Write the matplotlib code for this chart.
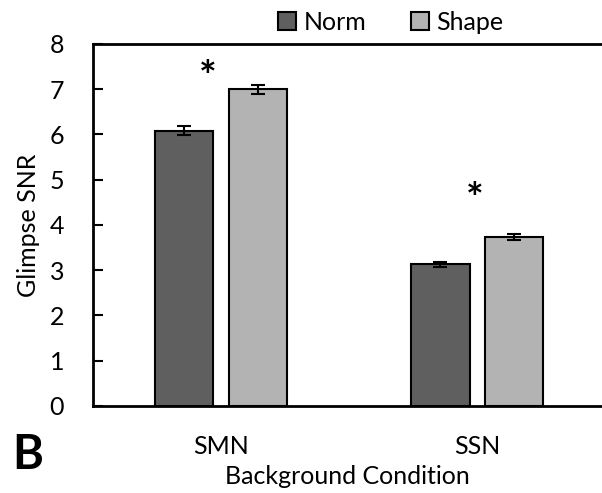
import matplotlib
matplotlib.use("Agg")
import matplotlib.pyplot as plt
import numpy as np

plt.rcParams['font.family'] = ['Lato', 'DejaVu Sans']

conditions = ["SMN", "SSN"]
series_names = ["Norm", "Shape"]
norm_vals = [6.08, 3.13]
shape_vals = [7.00, 3.73]
norm_err = [0.10, 0.05]
shape_err = [0.10, 0.07]
star_pos = [(-0.05, 7.22), (-0.01, 4.52)]
y_ticks = [0, 1, 2, 3, 4, 5, 6, 7, 8]

colors = ["#5f5f5f", "#b3b3b3"]

fig = plt.figure(figsize=(6.02, 4.93), dpi=100)
ax = fig.add_axes([0.1545, 0.1765, 0.8455, 0.7343])

x = np.arange(len(conditions))
width = 0.227
offset = 0.143
err_kw = dict(ecolor="black", elinewidth=1.5, capsize=5, capthick=1.5)
ax.bar(x - offset, norm_vals, width, yerr=norm_err, color=colors[0],
       edgecolor="black", linewidth=1.5, label=series_names[0], error_kw=err_kw, zorder=2)
ax.bar(x + offset, shape_vals, width, yerr=shape_err, color=colors[1],
       edgecolor="black", linewidth=1.5, label=series_names[1], error_kw=err_kw, zorder=2)

for i, (dx, yv) in enumerate(star_pos):
    ax.text(x[i] + dx, yv, "*", ha="center", va="center", fontsize=30,
            fontweight="bold")

ax.set_xlim(-0.5, 1.488)
ax.set_ylim(0, 8)
ax.set_yticks(y_ticks)
ax.set_xticks(x)
ax.set_xticklabels(conditions, fontsize=18)
ax.tick_params(axis="x", length=0, pad=21)
ax.tick_params(axis="y", direction="in", length=7, width=1.5, labelsize=18, pad=26)
for lbl in ax.get_yticklabels():
    lbl.set_horizontalalignment("center")
ax.spines["right"].set_visible(False)
for s in ["left", "top", "bottom"]:
    ax.spines[s].set_linewidth(2)

ax.set_xlabel("Background Condition", fontsize=18, labelpad=5)
ax.set_ylabel("Glimpse SNR", fontsize=18, labelpad=7)

ax.legend(loc="lower center", bbox_to_anchor=(0.585, 1.0), ncol=2, frameon=False,
          fontsize=18, handlelength=0.7, handleheight=0.7, handletextpad=0.3,
          columnspacing=1.8, borderaxespad=0.0)

fig.text(0.02, 0.077, "B", fontsize=34, fontweight="bold", ha="left", va="center")

fig.savefig("out.png", dpi=100)
